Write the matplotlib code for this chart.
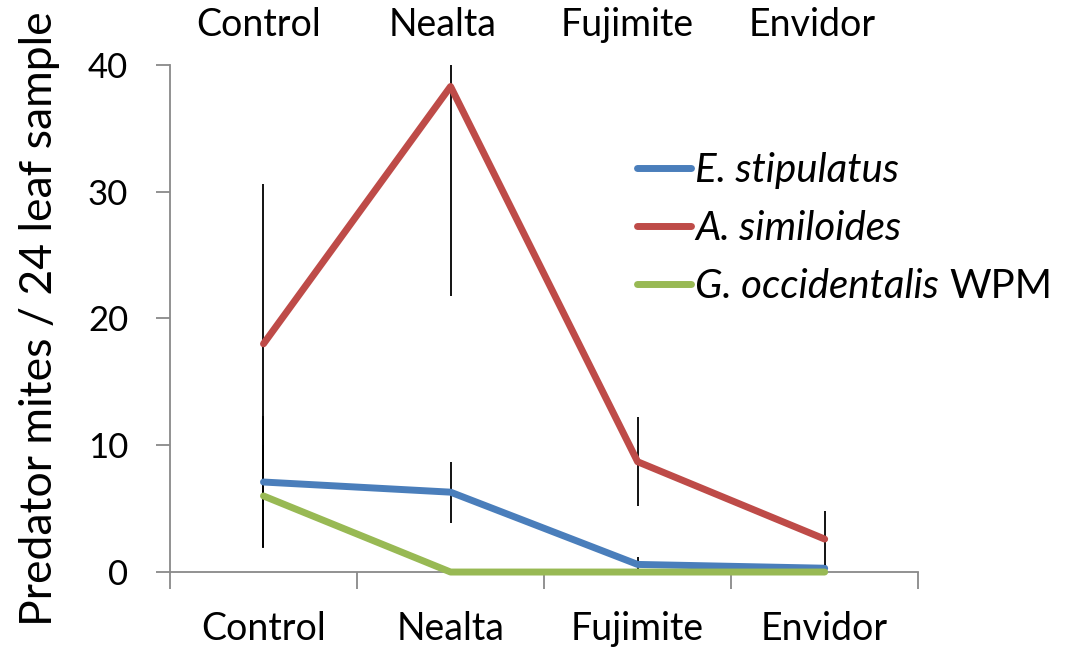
import numpy as np
import matplotlib.pyplot as plt

plt.rcParams['font.family'] = ['Lato', 'DejaVu Sans']

# Datos
tratamientos = ['Control', 'Nealta', 'Fujimite', 'Envidor']
e_stipulatus = [7.1, 6.3, 0.6, 0.3]
e_stipulatus_err = [5.2, 2.4, 0.6, 0.3]
a_similoides = [18.0, 38.3, 8.7, 2.6]
a_similoides_err = [12.6, 16.5, 3.5, 2.2]
g_occidentalis = [6.0, 0.0, 0.0, 0.0]
g_occidentalis_err = [4.0, 0.0, 0.0, 0.0]

series = [
    ('E. stipulatus', e_stipulatus, e_stipulatus_err, '#4A7EBB'),
    ('A. similoides', a_similoides, a_similoides_err, '#BE4B48'),
    ('G. occidentalis', g_occidentalis, g_occidentalis_err, '#98B954'),
]

fig = plt.figure(figsize=(10.86, 6.56), dpi=100)
ax = fig.add_axes([0.1565, 0.128, 0.689, 0.773])
x = np.arange(len(tratamientos))

for nombre, vals, err, color in series:
    ax.errorbar(x, vals, yerr=err, fmt='none', ecolor='black', elinewidth=1.3,
                capsize=0, zorder=2)
for nombre, vals, err, color in series:
    ax.plot(x, vals, color=color, lw=5, solid_capstyle='round',
            solid_joinstyle='round', clip_on=False, zorder=3, label=nombre)

ax.set_xlim(-0.5, len(tratamientos) - 0.5)
ax.set_ylim(0, 40)
ax.set_yticks([0, 10, 20, 30, 40])
ax.set_xticks(np.arange(-0.5, len(tratamientos)), minor=False)
ax.set_xticklabels([])
ax.set_xticks(x, minor=True)
ax.set_xticklabels(tratamientos, minor=True, fontsize=27)
ax.tick_params(axis='x', which='major', length=12, width=1.3, color='#898989', direction='out')
ax.tick_params(axis='x', which='minor', length=0, pad=28)
ax.tick_params(axis='y', length=10, width=1.3, color='#898989', labelsize=25, pad=20)

for s in ['top', 'right']:
    ax.spines[s].set_visible(False)
for s in ['left', 'bottom']:
    ax.spines[s].set_color('#898989')
    ax.spines[s].set_linewidth(1.3)

ax.set_ylabel('Predator mites / 24 leaf sample', fontsize=32, labelpad=20)

# etiquetas superiores
for i, t in enumerate(tratamientos):
    fig.text(0.238 + i * 0.1699, 0.962, t, fontsize=27, ha='center', va='center')

leg = fig.legend(loc='upper left', bbox_to_anchor=(0.5866, 0.768), frameon=False,
                 borderpad=0, borderaxespad=0,
                 handlelength=1.35, handletextpad=0.1, labelspacing=0.52,
                 prop={'size': 29, 'style': 'italic'})
textos = leg.get_texts()
fig.canvas.draw()
bb = textos[2].get_window_extent().transformed(fig.transFigure.inverted())
fig.text(bb.x1 + 0.009, (bb.y0 + bb.y1) / 2, 'WPM', fontsize=29, va='center')

fig.savefig('out.png', dpi=100)
